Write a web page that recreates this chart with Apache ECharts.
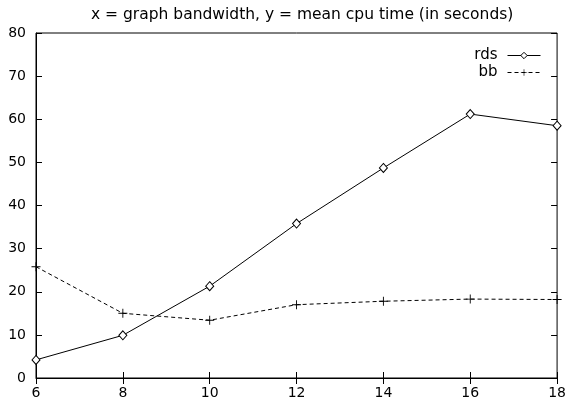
<!DOCTYPE html>
<html>
<head>
<meta charset="utf-8">
<script src="https://cdn.jsdelivr.net/npm/echarts@6/dist/echarts.min.js"></script>
<style>
  html, body { margin: 0; padding: 0; background: #fff; }
  #chart { width: 569px; height: 405px; }
</style>
</head>
<body>
<div id="chart"></div>
<script>
// values
var bandwidth = [6, 8, 10, 12, 14, 16, 18];
var rdsTime = [4.2, 9.9, 21.3, 35.8, 48.7, 61.2, 58.5];
var bbTime = [25.8, 15.0, 13.4, 17.0, 17.8, 18.3, 18.2];
var xTicks = [6, 8, 10, 12, 14, 16, 18];
var yTicks = [0, 10, 20, 30, 40, 50, 60, 70, 80];

function pairs(xs, ys) {
  return xs.map(function (x, i) { return [x, ys[i]]; });
}

var font = "DejaVu Sans, Verdana, sans-serif";
var plusIcon = "path://M4.5,0h1v4.5h4.5v1h-4.5v4.5h-1v-4.5h-4.5v-1h4.5z";

var chart = echarts.init(document.getElementById("chart"));
chart.setOption({
  animation: false,
  backgroundColor: "#fff",
  title: {
    text: "x = graph bandwidth, y = mean cpu time (in seconds)",
    left: 91,
    top: 7,
    padding: 0,
    textStyle: { fontFamily: font, fontSize: 15.5, fontWeight: "normal", color: "#000" }
  },
  legend: {
    right: 28,
    top: 47,
    padding: 0,
    orient: "vertical",
    align: "right",
    itemWidth: 33,
    itemHeight: 8,
    itemGap: 0,
    lineStyle: { width: 1 },
    itemStyle: { borderWidth: 1 },
    textStyle: { fontFamily: font, fontSize: 15, color: "#000", padding: [0, 5, 0, 0], lineHeight: 17 },
    data: ["rds", "bb"]
  },
  grid: {
    left: 36, right: 10, top: 33, bottom: 27,
    show: true, borderColor: "#000", borderWidth: 1
  },
  xAxis: [{
    type: "value", min: xTicks[0], max: xTicks[xTicks.length - 1], interval: 2,
    axisLine: { lineStyle: { color: "#000" } },
    axisTick: { inside: true, length: 6, lineStyle: { color: "#000" } },
    axisLabel: { fontFamily: font, fontSize: 14, color: "#000", margin: 8 },
    splitLine: { show: false }
  }, {
    type: "value", position: "top", min: xTicks[0], max: xTicks[xTicks.length - 1], interval: 2,
    axisLine: { show: false },
    axisTick: { inside: true, length: 6, lineStyle: { color: "#000" } },
    axisLabel: { show: false },
    splitLine: { show: false }
  }],
  yAxis: [{
    type: "value", min: yTicks[0], max: yTicks[yTicks.length - 1], interval: 10,
    axisLine: { show: true, lineStyle: { color: "#000" } },
    axisTick: { show: true, inside: true, length: 6, lineStyle: { color: "#000" } },
    axisLabel: { fontFamily: font, fontSize: 14, color: "#000", margin: 10 },
    splitLine: { show: false }
  }, {
    type: "value", position: "right", min: yTicks[0], max: yTicks[yTicks.length - 1], interval: 10,
    axisLine: { show: false },
    axisTick: { show: true, inside: true, length: 6, lineStyle: { color: "#000" } },
    axisLabel: { show: false },
    splitLine: { show: false }
  }],
  series: [{
    name: "rds",
    type: "line",
    data: pairs(bandwidth, rdsTime),
    symbol: "diamond",
    symbolSize: [8, 9],
    showAllSymbol: true,
    lineStyle: { color: "#000", width: 1 },
    itemStyle: { color: "#fff", borderColor: "#000", borderWidth: 1 }
  }, {
    name: "bb",
    type: "line",
    data: pairs(bandwidth, bbTime),
    symbol: plusIcon,
    symbolSize: 9,
    showAllSymbol: true,
    lineStyle: { color: "#000", width: 1, type: [4, 3] },
    itemStyle: { color: "#000", borderWidth: 0 }
  }]
});
</script>
</body>
</html>
